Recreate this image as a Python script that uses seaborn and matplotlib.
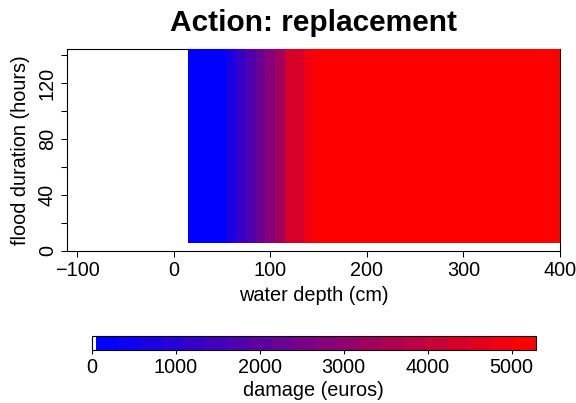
import numpy as np
import pandas as pd
import matplotlib
matplotlib.use("Agg")
import matplotlib.pyplot as plt
import seaborn as sns
from matplotlib.colors import ListedColormap, BoundaryNorm

# ---- data ----
depths = [20, 30, 40, 50, 60, 70, 80, 90, 100, 110, 120, 130, 140, 150,
          160, 170, 180, 190, 200, 210, 220, 230, 240, 250, 260, 270, 280,
          290, 300, 310, 320, 330, 340, 350, 360, 370, 380, 390, 400]
damage = [60, 90, 130, 180, 700, 1230, 1760, 2290, 2820, 3340, 4300, 4350,
          4900, 5290, 5290, 5290, 5290, 5290, 5290, 5290, 5290, 5290, 5290,
          5290, 5290, 5290, 5290, 5290, 5290, 5290, 5290, 5290, 5290, 5290,
          5290, 5290, 5290, 5290, 5290]
durations = [12, 24, 36, 48, 60, 72, 84, 96, 108, 120, 132, 144]
damage_min = 52
damage_max = 5290
xticks = [-100, 0, 100, 200, 300, 400]
yticks = [0, 20, 40, 60, 80, 100, 120, 140]
ytick_labels = ["0", "", "40", "", "80", "", "120", ""]
cbar_ticks = [0, 1000, 2000, 3000, 4000, 5000]

df = pd.DataFrame(
    [(d, h, v) for d, v in zip(depths, damage) for h in durations],
    columns=["depth", "duration", "damage"],
)

# ---- style ----
sns.set_theme(style="ticks")
plt.rcParams["font.family"] = ["Liberation Sans", "DejaVu Sans"]
plt.rcParams["axes.unicode_minus"] = True

n_levels = 20
ramp = [(k / (n_levels - 1), 0.0, 1 - k / (n_levels - 1)) for k in range(n_levels)]
cmap = ListedColormap([(1, 1, 1)] + ramp)
cmap.set_over((1, 0, 0))
bounds = [0] + list(np.linspace(damage_min, damage_max, n_levels + 1))
norm = BoundaryNorm(bounds, cmap.N)

x_edges = np.arange(15, 406, 10)
y_edges = np.arange(6, 151, 12)

fig = plt.figure(figsize=(5.76, 4.03), dpi=100)
ax = fig.add_axes([0.1163, 0.3772, 0.856, 0.5012])
cax = fig.add_axes([0.1592, 0.1315, 0.7714, 0.0355])

sns.histplot(data=df, x="depth", y="duration", weights="damage",
             bins=(x_edges, y_edges), cmap=cmap, ax=ax, zorder=3,
             linewidth=0, antialiased=False)
mesh = ax.collections[0]
mesh.set_norm(norm)

ax.set_xlim(-110.3, 400)
ax.set_ylim(0, 144.3)
ax.set_xticks(xticks)
ax.set_yticks(yticks)
ax.set_yticklabels(ytick_labels, rotation=90, va="center")
ax.tick_params(axis="both", direction="out", length=4.3, width=0.75,
               color="black", labelsize=14.3, pad=3, labelcolor="black")
for s in ax.spines.values():
    s.set_visible(True)
    s.set_linewidth(0.8)
    s.set_color("black")
    s.set_zorder(1)
ax.set_xlabel("water depth (cm)", fontsize=14.3, labelpad=4, color="black")
ax.set_ylabel("flood duration (hours)", fontsize=14.3, labelpad=6, color="black")
ax.set_title("Action: replacement", fontsize=21.5, fontweight="bold", pad=13,
             color="black")

cb = fig.colorbar(mesh, cax=cax, orientation="horizontal",
                  spacing="proportional", ticks=cbar_ticks)
cb.minorticks_off()
cb.outline.set_linewidth(0.8)
cb.outline.set_edgecolor("black")
cax.tick_params(which="both", direction="out", length=3, width=0.75,
                labelsize=14.3, pad=2.5, color="black", labelcolor="black")
cax.tick_params(which="minor", length=0)
cax.set_xticklabels([str(t) for t in cbar_ticks])
cax.set_xlabel("damage (euros)", fontsize=14.3, labelpad=3, color="black")

fig.savefig("out.png", dpi=100, facecolor="white")
